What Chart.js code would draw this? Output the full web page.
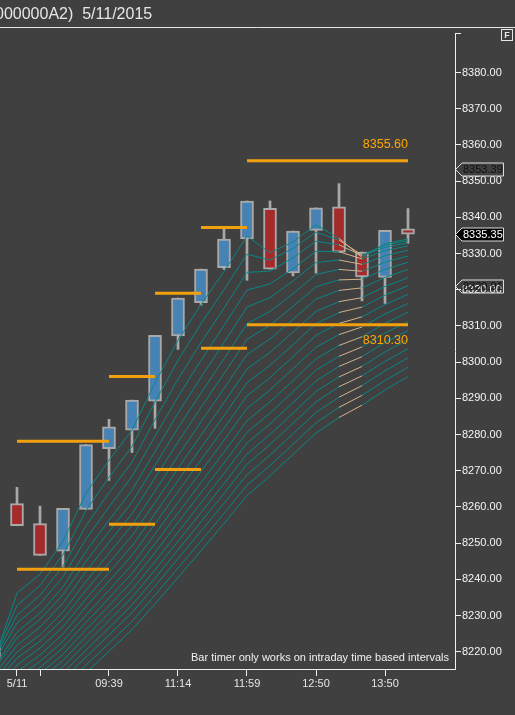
<!DOCTYPE html>
<html>
<head>
<meta charset="utf-8">
<style>
  html, body { margin: 0; padding: 0; background: #404040; overflow: hidden; }
  canvas { display: block; }
</style>
</head>
<body>
<canvas id="myChart" width="515" height="715"></canvas>
<script src="https://cdn.jsdelivr.net/npm/chart.js@4.4.1/dist/chart.umd.min.js"></script>
<script>
// candles (bar -1 is only partly visible at the left edge)
const barIndex = [-1, 0, 1, 2, 3, 4, 5, 6, 7, 8, 9, 10, 11, 12, 13, 14, 15, 16, 17];
const opens  = [8218.1, 8260.9, 8255.4, 8247.8, 8259.3, 8276.1, 8281.2, 8289.2, 8307.2, 8316.4, 8326.1, 8334.0, 8342.5, 8324.6, 8336.4, 8342.9, 8330.4, 8323.4, 8336.8];
const highs  = [8221.7, 8265.4, 8260.2, 8259.6, 8277.2, 8284.2, 8289.5, 8307.4, 8317.7, 8325.7, 8337.2, 8344.5, 8344.5, 8336.2, 8342.6, 8349.3, 8330.4, 8336.4, 8342.4];
const lows   = [8218.1, 8254.8, 8246.6, 8243.4, 8259.3, 8267.3, 8275.0, 8281.7, 8303.5, 8315.7, 8325.6, 8322.6, 8325.7, 8323.8, 8324.6, 8330.4, 8316.9, 8316.2, 8332.8];
const closes = [8221.7, 8254.8, 8246.6, 8259.6, 8277.2, 8282.1, 8289.5, 8307.4, 8317.7, 8325.7, 8334.0, 8344.5, 8325.7, 8336.2, 8342.6, 8330.4, 8323.5, 8336.4, 8335.35];

// axis ticks
const xTickBars = [0, 1, 4, 7, 10, 13, 16];
const xTickLabels = ['5/11', '', '09:39', '11:14', '11:59', '12:50', '13:50'];
const yTickValues = [8220, 8230, 8240, 8250, 8260, 8270, 8280, 8290, 8300, 8310, 8320, 8330, 8340, 8350, 8360, 8370, 8380];

// orange period high / low levels
const levelStart = [0, 4, 6, 8, 10];
const levelEnd   = [4, 6, 8, 10, 17];
const levelHigh  = [8278.1, 8296.0, 8319.0, 8337.2, 8355.60];
const levelLow   = [8242.8, 8255.2, 8270.3, 8303.8, 8310.30];

// price tags on the right axis
const tagValues = [8353.39, 8335.35, 8320.91];

// moving average ribbon, one value per bar from -1 to 17
const ribbonBars = [-1, 0, 1, 2, 3, 4, 5, 6, 7, 8, 9, 10, 11, 12, 13, 14, 15, 16, 17];
const ma3  = [8217.6, 8236.2, 8241.4, 8250.5, 8263.8, 8272.9, 8281.2, 8294.3, 8306.0, 8315.9, 8325.0, 8334.8, 8330.2, 8333.2, 8337.9, 8334.2, 8328.9, 8332.7, 8334.0];
const ma4  = [8218.1, 8232.8, 8238.3, 8246.8, 8259.0, 8268.2, 8276.7, 8289.0, 8300.5, 8310.6, 8320.0, 8329.8, 8328.2, 8331.4, 8335.9, 8333.7, 8329.6, 8332.3, 8333.5];
const ma5  = [8217.8, 8230.1, 8235.6, 8243.6, 8254.8, 8263.9, 8272.4, 8284.1, 8295.3, 8305.4, 8314.9, 8324.8, 8325.1, 8328.8, 8333.4, 8332.4, 8329.4, 8331.7, 8332.9];
const ma6  = [8217.1, 8227.9, 8233.2, 8240.7, 8251.1, 8260.0, 8268.4, 8279.5, 8290.4, 8300.5, 8310.1, 8319.9, 8321.6, 8325.8, 8330.6, 8330.5, 8328.5, 8330.8, 8332.1];
const ma7  = [8215.6, 8225.4, 8230.7, 8237.9, 8247.7, 8256.3, 8264.6, 8275.3, 8285.9, 8295.8, 8305.4, 8315.2, 8317.8, 8322.4, 8327.5, 8328.2, 8327.0, 8329.4, 8330.9];
const ma8  = [8214.9, 8223.8, 8228.9, 8235.7, 8244.9, 8253.2, 8261.3, 8271.5, 8281.8, 8291.5, 8300.9, 8310.6, 8314.0, 8318.9, 8324.2, 8325.6, 8325.1, 8327.6, 8329.3];
const ma9  = [8213.5, 8221.8, 8226.8, 8233.4, 8242.2, 8250.2, 8258.1, 8268.0, 8277.9, 8287.5, 8296.8, 8306.3, 8310.2, 8315.4, 8320.8, 8322.7, 8322.9, 8325.6, 8327.6];
const ma10 = [8212.1, 8219.9, 8224.7, 8231.0, 8239.4, 8247.2, 8254.9, 8264.4, 8274.1, 8283.5, 8292.7, 8302.1, 8306.4, 8311.8, 8317.4, 8319.8, 8320.5, 8323.4, 8325.6];
const ma11 = [8210.9, 8218.2, 8222.9, 8229.0, 8237.0, 8244.5, 8252.0, 8261.2, 8270.6, 8279.8, 8288.8, 8298.1, 8302.7, 8308.3, 8314.0, 8316.7, 8317.8, 8320.9, 8323.3];
const ma12 = [8209.3, 8216.3, 8221.0, 8226.9, 8234.6, 8241.9, 8249.2, 8258.1, 8267.3, 8276.3, 8285.2, 8294.3, 8299.1, 8304.8, 8310.6, 8313.7, 8315.2, 8318.5, 8321.1];
const ma13 = [8207.8, 8214.5, 8219.1, 8224.9, 8232.4, 8239.5, 8246.6, 8255.3, 8264.2, 8273.0, 8281.7, 8290.7, 8295.7, 8301.5, 8307.4, 8310.7, 8312.5, 8315.9, 8318.7];
const ma14 = [8206.3, 8212.8, 8217.3, 8222.9, 8230.1, 8237.0, 8244.0, 8252.5, 8261.2, 8269.8, 8278.4, 8287.2, 8292.3, 8298.2, 8304.1, 8307.6, 8309.7, 8313.3, 8316.2];
const ma15 = [8205.0, 8211.2, 8215.6, 8221.1, 8228.1, 8234.8, 8241.6, 8249.8, 8258.3, 8266.7, 8275.1, 8283.8, 8289.0, 8294.9, 8300.9, 8304.6, 8307.0, 8310.7, 8313.8];
const ma16 = [8203.6, 8209.6, 8213.9, 8219.3, 8226.1, 8232.7, 8239.4, 8247.4, 8255.7, 8263.9, 8272.1, 8280.6, 8285.9, 8291.8, 8297.8, 8301.6, 8304.2, 8308.0, 8311.2];
const ma17 = [8202.1, 8208.0, 8212.3, 8217.6, 8224.2, 8230.6, 8237.1, 8244.9, 8253.0, 8261.1, 8269.2, 8277.6, 8282.9, 8288.8, 8294.8, 8298.8, 8301.5, 8305.4, 8308.7];
const ma18 = [8200.7, 8206.4, 8210.6, 8215.8, 8222.3, 8228.6, 8235.0, 8242.6, 8250.5, 8258.4, 8266.4, 8274.6, 8280.0, 8285.9, 8291.9, 8295.9, 8298.8, 8302.8, 8306.2];
const ma19 = [8199.2, 8204.8, 8209.0, 8214.1, 8220.4, 8226.6, 8232.9, 8240.3, 8248.1, 8255.9, 8263.7, 8271.8, 8277.2, 8283.1, 8289.0, 8293.2, 8296.2, 8300.2, 8303.7];
const ma20 = [8197.8, 8203.2, 8207.3, 8212.3, 8218.5, 8224.6, 8230.8, 8238.1, 8245.7, 8253.3, 8261.0, 8268.9, 8274.3, 8280.2, 8286.1, 8290.3, 8293.5, 8297.6, 8301.2];
const ma21 = [8195.8, 8201.2, 8205.3, 8210.2, 8216.3, 8222.3, 8228.4, 8235.6, 8243.1, 8250.6, 8258.2, 8266.0, 8271.4, 8277.3, 8283.2, 8287.5, 8290.8, 8294.9, 8298.6];
const ma22 = [8193.9, 8199.2, 8203.3, 8208.2, 8214.2, 8220.1, 8226.1, 8233.2, 8240.5, 8247.9, 8255.4, 8263.1, 8268.6, 8274.5, 8280.4, 8284.7, 8288.1, 8292.3, 8296.0];
const ribbons = [ma3, ma4, ma5, ma6, ma7, ma8, ma9, ma10, ma11, ma12, ma13, ma14, ma15, ma16, ma17, ma18, ma19, ma20, ma21, ma22];
const tanBar = 14; // segment from bar 14 to 15 is drawn tan

const headerText = '000000A2)  5/11/2015';
const noteText = 'Bar timer only works on intraday time based intervals';

const UP = '#4682b4';
const DOWN = '#a52a2a';
const EDGE = '#a9a9a9';
const TEAL = '#0b8686';
const TAN = '#d2b48c';
const ORANGE = '#f2a00e';
const FG = '#f0f0f0';

Chart.defaults.font.family = 'Arial, "Liberation Sans", sans-serif';

const datasets = [];

datasets.push({
    type: 'bar',
    label: 'wicks',
    data: barIndex.map((b, i) => ({ x: b, y: [lows[i], highs[i]] })),
    backgroundColor: EDGE,
    borderWidth: 0,
    barThickness: 2,
    grouped: false,
    order: 5
});
datasets.push({
    type: 'bar',
    label: 'bodies',
    data: barIndex.map((b, i) => ({ x: b, y: [opens[i], closes[i]] })),
    backgroundColor: barIndex.map((b, i) => closes[i] >= opens[i] ? UP : DOWN),
    borderColor: EDGE,
    borderWidth: 2,
    borderSkipped: false,
    barThickness: 13,
    grouped: false,
    order: 4
});

ribbons.forEach((arr, k) => {
    datasets.push({
        type: 'line',
        label: 'ma' + (k + 3),
        data: ribbonBars.map((b, i) => ({ x: b, y: arr[i] })),
        borderColor: TEAL,
        borderWidth: 1,
        pointRadius: 0,
        tension: 0,
        order: 3,
        segment: { borderColor: c => c.p0.parsed.x === tanBar ? TAN : TEAL }
    });
});

levelStart.forEach((s, i) => {
    [levelHigh[i], levelLow[i]].forEach(v => {
        datasets.push({
            type: 'line',
            label: 'level',
            data: [{ x: s, y: v }, { x: levelEnd[i], y: v }],
            borderColor: ORANGE,
            borderWidth: 3,
            borderCapStyle: 'butt',
            pointRadius: 0,
            order: 1
        });
    });
});

const overlay = {
    id: 'overlay',
    afterDraw(chart) {
        const { ctx, chartArea, scales } = chart;
        const x = scales.x, y = scales.y;
        ctx.save();

        // header
        ctx.fillStyle = '#e6e6e6';
        ctx.font = '16px Arial, "Liberation Sans", sans-serif';
        ctx.textAlign = 'left';
        ctx.textBaseline = 'alphabetic';
        ctx.fillText(headerText, -5, 19);
        ctx.strokeStyle = '#e6e6e6';
        ctx.lineWidth = 1;
        ctx.beginPath();
        ctx.moveTo(0, 27.5);
        ctx.lineTo(515, 27.5);
        ctx.stroke();

        // F box
        ctx.strokeRect(501.5, 29.5, 11, 11);
        ctx.font = 'bold 9px Arial, "Liberation Sans", sans-serif';
        ctx.textAlign = 'center';
        ctx.textBaseline = 'middle';
        ctx.fillText('F', 507, 35.5);

        // small tick at the top of the price axis
        ctx.strokeStyle = FG;
        ctx.beginPath();
        ctx.moveTo(chartArea.right, chartArea.top + 0.5);
        ctx.lineTo(chartArea.right + 6, chartArea.top + 0.5);
        ctx.stroke();

        // labels of the current period levels
        const last = levelEnd.length - 1;
        const lx = x.getPixelForValue(levelEnd[last]);
        ctx.fillStyle = '#ffa500';
        ctx.font = '12.5px Arial, "Liberation Sans", sans-serif';
        ctx.textAlign = 'right';
        ctx.textBaseline = 'middle';
        ctx.fillText(levelHigh[last].toFixed(2), lx, y.getPixelForValue(levelHigh[last]) - 16);
        ctx.fillText(levelLow[last].toFixed(2), lx, y.getPixelForValue(levelLow[last]) + 16);

        // price tags
        ctx.font = '11px Arial, "Liberation Sans", sans-serif';
        ctx.textAlign = 'left';
        tagValues.forEach((v, i) => {
            const py = Math.round(y.getPixelForValue(v)) + 0.5;
            const r = chartArea.right;
            ctx.beginPath();
            ctx.moveTo(r + 0.5, py);
            ctx.lineTo(r + 7, py - 6.5);
            ctx.lineTo(503.5, py - 6.5);
            ctx.lineTo(503.5, py + 6.5);
            ctx.lineTo(r + 7, py + 6.5);
            ctx.closePath();
            const current = i === 1;
            if (current) {
                ctx.fillStyle = '#000000';
                ctx.fill();
            }
            ctx.strokeStyle = '#dcdcdc';
            ctx.lineWidth = 1;
            ctx.stroke();
            ctx.fillStyle = current ? '#ffffff' : '#111111';
            ctx.fillText(v.toFixed(2), r + 8, py);
        });

        // note
        ctx.fillStyle = FG;
        ctx.font = '11px Arial, "Liberation Sans", sans-serif';
        ctx.textAlign = 'right';
        ctx.textBaseline = 'middle';
        ctx.fillText(noteText, chartArea.right - 6, chartArea.bottom - 11);

        ctx.restore();
    }
};

const ctx = document.getElementById('myChart').getContext('2d');
const myChart = new Chart(ctx, {
    type: 'bar',
    data: { datasets: datasets },
    options: {
        responsive: false,
        animation: false,
        devicePixelRatio: 1,
        layout: { padding: { top: 33, left: 0, right: 0, bottom: 0 } },
        plugins: {
            legend: { display: false },
            tooltip: { enabled: false }
        },
        scales: {
            x: {
                type: 'linear',
                min: -17 / 23,
                max: 438 / 23,
                offset: false,
                grid: { display: true, drawOnChartArea: false, offset: false, tickLength: 7, color: FG },
                border: { display: true, color: FG, width: 1 },
                ticks: {
                    color: '#e6e6e6',
                    font: { size: 11 },
                    padding: 1,
                    autoSkip: false,
                    maxRotation: 0,
                    callback: v => {
                        const i = xTickBars.indexOf(v);
                        return i >= 0 ? xTickLabels[i] : '';
                    }
                },
                afterBuildTicks: s => { s.ticks = xTickBars.map(v => ({ value: v })); },
                afterFit: s => { s.height = 46; }
            },
            y: {
                type: 'linear',
                position: 'right',
                min: 8215.22,
                max: 8390.91,
                grid: { display: true, drawOnChartArea: false, tickLength: 6, color: FG },
                border: { display: true, color: FG, width: 1 },
                ticks: {
                    color: '#f4f4f4',
                    font: { size: 11 },
                    padding: 1,
                    callback: v => Number(v).toFixed(2)
                },
                afterBuildTicks: s => { s.ticks = yTickValues.map(v => ({ value: v })); },
                afterFit: s => { s.width = 60; }
            }
        }
    },
    plugins: [overlay]
});
</script>
</body>
</html>
